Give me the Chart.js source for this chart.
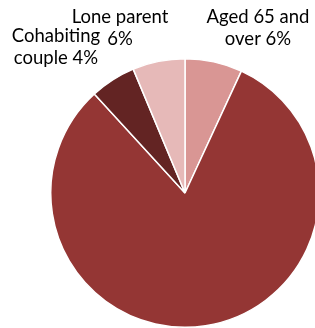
<!DOCTYPE html>
<html>
<head>
<meta charset="utf-8">
<script src="https://cdn.jsdelivr.net/npm/chart.js@4"></script>
<style>
html,body{margin:0;padding:0;overflow:hidden;background:#fff;width:315px;height:328px;}
canvas{display:block;}
</style>
</head>
<body>
<canvas id="c" width="370" height="328"></canvas>
<script>
const categories = ["Aged 65 and over", "Other", "Cohabiting couple", "Lone parent"];
const values = [6.9, 81.3, 5.5, 6.3];
const labelLines = [["Aged 65 and", "over 6%"], [], ["Cohabiting", "couple 4%"], ["Lone parent", "6%"]];
const colors = ["#D99694", "#943634", "#632423", "#E6B9B8"];

const labelPos = [[258, 17], null, [56, 36], [120, 17]];

const labelPlugin = {
  id: 'sliceLabels',
  afterDraw(chart) {
    const ctx = chart.ctx;
    ctx.save();
    ctx.font = '18.5px Lato';
    ctx.fillStyle = '#000';
    ctx.textAlign = 'center';
    ctx.textBaseline = 'middle';
    labelLines.forEach((lines, i) => {
      const p = labelPos[i];
      if (!p) return;
      lines.forEach((t, j) => ctx.fillText(t, p[0], p[1] + j * 22));
    });
    ctx.restore();
  }
};

new Chart(document.getElementById('c'), {
  type: 'pie',
  data: {
    labels: categories,
    datasets: [{
      data: values,
      backgroundColor: colors,
      borderColor: '#fff',
      borderWidth: 1.5
    }]
  },
  options: {
    responsive: false,
    animation: false,
    layout: { padding: { left: 50, right: 50, top: 58, bottom: 0 } },
    plugins: { legend: { display: false }, tooltip: { enabled: false } }
  },
  plugins: [labelPlugin]
});
</script>
</body>
</html>
